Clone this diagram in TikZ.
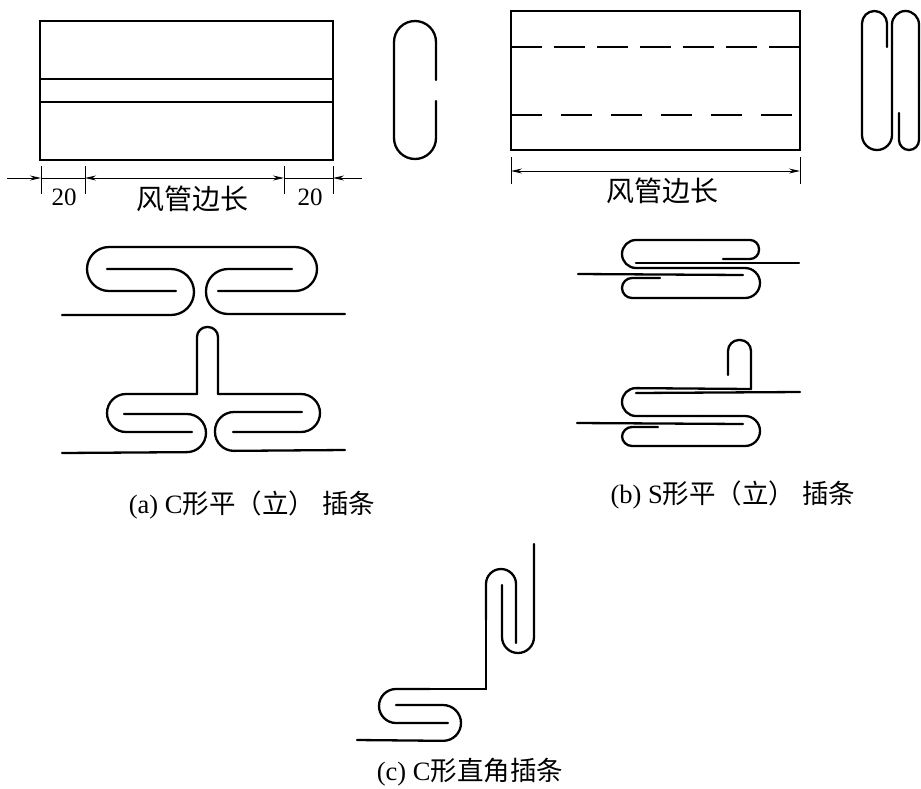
\documentclass[tikz,border=0pt]{standalone}
\usepackage{fontspec}
\setmainfont{Liberation Serif}
\newfontfamily\cjk{Noto Sans CJK SC}
\usetikzlibrary{arrows.meta, positioning}
\tikzset{
    seam/.style={
        line width=2.3pt,
        line cap=round,
    },
    outline/.style={
        line width=2.2pt,
    },
    foldline/.style={
        line width=1.6pt,
    },
    dimline/.style={
        line width=1pt,
    },
    caption/.style={
        font=\fontsize{26.5}{26.5}\selectfont,
        inner sep=0pt,
    },
    dimtext/.style={
        font=\fontsize{28}{28}\selectfont\cjk,
        inner sep=0pt,
    },
}

\begin{document}
\begin{tikzpicture}[x=1pt,y=-1pt,>={Stealth[length=11pt,width=5pt]}]
    \useasboundingbox (0,0) rectangle (921,788);

    % top left sheet
    \draw [outline] (40,21) rectangle (333,160);
    \draw [foldline] (40,79) -- (333,79);
    \draw [foldline] (40,102) -- (333,102);
    \draw [seam,rounded corners=21] (436,80) -- (436,21) -- (394,21) -- (394,159) -- (436,159) -- (436,101);

    % dimensions of the left sheet
    \coordinate (a-out-l) at (7,178);
    \coordinate (a-l) at (41,178);
    \coordinate (a-m1) at (85,178);
    \coordinate (a-m2) at (284,178);
    \coordinate (a-r) at (333,178);
    \coordinate (a-out-r) at (362,178);
    \draw [dimline] (41,166) -- (41,194);
    \draw [dimline] (85,166) -- (85,194);
    \draw [dimline] (284,166) -- (284,194);
    \draw [dimline] (333,166) -- (333,194);
    \draw [dimline,->] (a-out-l) -- (a-l);
    \draw [dimline] (a-l) -- (a-m1);
    \draw [dimline,<->] (a-m1) -- (a-m2);
    \draw [dimline] (a-m2) -- (a-r);
    \draw [dimline,->] (a-out-r) -- (a-r);
    \node [caption,font=\fontsize{25}{25}\selectfont] (a-w1) at (64,197) {20};
    \node [caption,font=\fontsize{25}{25}\selectfont] (a-w2) at (310,197) {20};
    \node [dimtext] (a-len) at (192,199) {风管边长};

    % top right sheet
    \draw [outline] (511,11) rectangle (800,150);
    \draw [foldline,dash pattern=on 31pt off 12pt] (511,47) -- (800,47);
    \draw [foldline,dash pattern=on 31pt off 19pt] (511,115) -- (800,115);
    \draw [seam,rounded corners=12.5] (887,47) -- (887,11) -- (862,11) -- (862,80);
    \draw [seam,rounded corners=15] (862,80) -- (862,150) -- (892,150) -- (892,80);
    \draw [seam,rounded corners=13.5] (892,80) -- (892,11) -- (919,11) -- (919,80);
    \draw [seam,rounded corners=10] (919,80) -- (919,150) -- (899,150) -- (899,113);

    % dimensions of the right sheet
    \coordinate (b-l) at (511,171);
    \coordinate (b-r) at (800,171);
    \draw [dimline] (511,157) -- (511,184);
    \draw [dimline] (800,157) -- (800,184);
    \draw [dimline,<->] (b-l) -- (b-r);
    \node [dimtext] (b-len) at (662,191) {风管边长};

    % C flat strip
    \draw [seam,rounded corners=23] (62,315) -- (194,315) -- (194,269) -- (107,269);
    \draw [seam,rounded corners=22] (176,291) -- (87,291) -- (87,247) -- (317,247) -- (317,291) -- (218,291);
    \draw [seam,rounded corners=22] (292,269) -- (206,269) -- (206,314) -- (345,314);

    % C standing strip
    \draw [seam,rounded corners=19] (192,432) -- (107,432) -- (107,394) -- (197,394);
    \draw [seam,rounded corners=10] (197,394) -- (197,327) -- (218,327) -- (218,394);
    \draw [seam,rounded corners=19] (218,394) -- (320,394) -- (320,432) -- (233,432);
    \draw [seam,rounded corners=19] (62,453) -- (206,452) -- (206,414) -- (124,414);
    \draw [seam,rounded corners=19] (302,412) -- (215,412) -- (215,451) -- (345,450);

    % S flat strip
    \draw [seam,rounded corners=9] (723,259) -- (759,259) -- (759,240) -- (700,240);
    \draw [seam,rounded corners=14] (700,240) -- (622,240) -- (622,268) -- (700,268);
    \draw [seam,rounded corners=15] (700,268) -- (760,268) -- (760,298) -- (700,298);
    \draw [seam,rounded corners=10] (700,298) -- (622,298) -- (622,278) -- (660,278);
    \draw [seam] (636,263) -- (799,263);
    \draw [seam] (578,274) -- (743,275);

    % S standing strip
    \draw [seam,rounded corners=11] (728,375) -- (728,340) -- (751,340) -- (751,389);
    \draw [seam,rounded corners=14] (751,389) -- (622,388) -- (622,416) -- (700,416);
    \draw [seam,rounded corners=15] (700,416) -- (760,416) -- (760,446) -- (700,446);
    \draw [seam,rounded corners=10] (700,446) -- (622,446) -- (622,427) -- (658,427);
    \draw [seam] (636,393) -- (800,392);
    \draw [seam] (577,423) -- (743,424);

    % C corner strip
    \draw [seam,rounded corners=16] (534,544) -- (534,653) -- (502,653) -- (502,585);
    \draw [seam,rounded corners=15] (516,643) -- (516,569) -- (486,569) -- (486,620);
    \draw [seam] (486,620) -- (486,689) -- (430,689);
    \draw [seam,rounded corners=17] (430,689) -- (379,689) -- (379,723) -- (448,723);
    \draw [seam,rounded corners=18] (396,705) -- (461,705) -- (461,741) -- (357,740);

    % captions
    \node [caption] (cap-a) at (252,505) {(a) C{\cjk 形平（立）\hspace{7pt}插条}};
    \node [caption] (cap-b) at (733,495) {(b) S{\cjk 形平（立）\hspace{7pt}插条}};
    \node [caption] (cap-c) at (470,772) {(c) C{\cjk 形直角插条}};
\end{tikzpicture}
\end{document}
